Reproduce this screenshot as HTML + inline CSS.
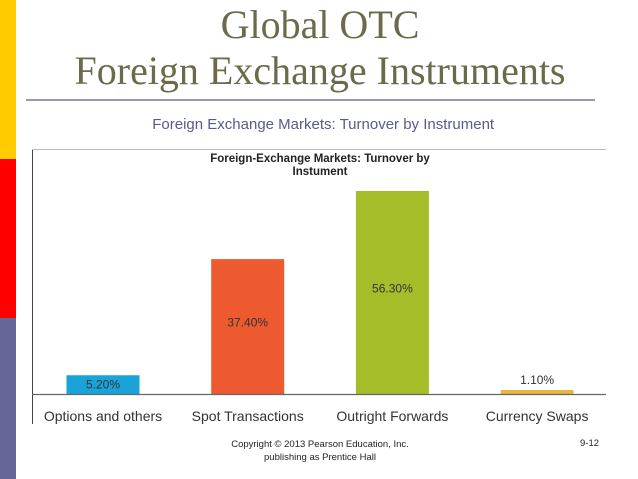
<!DOCTYPE html>
<html><head><meta charset="utf-8"><style>
body{margin:0;width:638px;height:479px;background:#fff;overflow:hidden;position:relative;font-family:"Liberation Sans",sans-serif}
.abs{position:absolute}
</style></head><body>
<div class="abs" style="left:0;top:0;width:16px;height:159px;background:#ffcc00"></div>
<div class="abs" style="left:0;top:159px;width:16px;height:159px;background:#ff0000"></div>
<div class="abs" style="left:0;top:318px;width:16px;height:161px;background:#666699"></div>
<div class="abs" style="left:30px;width:580px;top:2px;text-align:center;font-family:'Liberation Serif',serif;font-size:40px;line-height:46px;color:#6b6b4b">Global OTC<br>Foreign Exchange Instruments</div>
<div class="abs" style="left:26px;top:99px;width:569px;height:2px;background:#9999bb"></div>
<div class="abs" style="left:0;width:638px;top:116px;text-align:center;font-size:15px;color:#5a5a8a">&nbsp;&nbsp;Foreign Exchange Markets: Turnover by Instrument</div>
<svg class="abs" style="left:0;top:0" width="638" height="479">
<line x1="32.5" y1="149" x2="32.5" y2="424" stroke="#444" stroke-width="1"/>
<line x1="32" y1="149.5" x2="606" y2="149.5" stroke="#bbb" stroke-width="1"/>
<text x="320" y="162" text-anchor="middle" font-family="Liberation Sans Narrow, Liberation Sans, sans-serif" font-weight="bold" font-size="11.5" fill="#222">Foreign-Exchange Markets: Turnover by</text>
<text x="320" y="175" text-anchor="middle" font-family="Liberation Sans Narrow, Liberation Sans, sans-serif" font-weight="bold" font-size="11.5" fill="#222">Instument</text>
<g id="bars"></g>
<line x1="32" y1="394.5" x2="606" y2="394.5" stroke="#666" stroke-width="1.2"/>
</svg>
<div class="abs" style="left:170px;width:300px;top:438px;text-align:center;font-size:9.5px;line-height:13px;color:#222">Copyright © 2013 Pearson Education, Inc.<br>publishing as Prentice Hall</div>
<div class="abs" style="left:580px;top:438px;font-size:9.5px;color:#222">9-12</div>
<script>
const categories=["Options and others","Spot Transactions","Outright Forwards","Currency Swaps"];
const values=[5.2,37.4,56.3,1.1];
const valueLabels=["5.20%","37.40%","56.30%","1.10%"];
const colors=["#1aa3d9","#ee5a30","#a6bd2a","#e8b83c"];
const NS="http://www.w3.org/2000/svg";
const g=document.getElementById('bars');
const baseY=394, pxPer=3.606;
function xCenter(i){return 103+i*144.7;}
function yScale(v){return baseY-v*pxPer;}
values.forEach((v,i)=>{
 const r=document.createElementNS(NS,'rect');
 
 
 const w=73,y=yScale(v);
 r.setAttribute('x',xCenter(i)-w/2);r.setAttribute('y',y);
 r.setAttribute('width',w);r.setAttribute('height',baseY-y);
 r.setAttribute('fill',colors[i]);g.appendChild(r);
 const t=document.createElementNS(NS,'text');
 
 
 const h=baseY-y;
 let ty=h<12?y-6:(h<30?y+h/2+4:y+h*0.5-h*0.0+ (i==2?-6:-2));
 if(h>100) ty=y+h*(i==2?0.5:0.5);
 t.setAttribute('x',xCenter(i));t.setAttribute('y',ty);
 t.setAttribute('text-anchor','middle');
 t.setAttribute('font-family','Liberation Sans Narrow, Liberation Sans, sans-serif');
 t.setAttribute('font-size','12');t.setAttribute('fill','#333');
 t.textContent=valueLabels[i];g.appendChild(t);
 const c=document.createElementNS(NS,'text');
 
 
 c.setAttribute('x',xCenter(i));c.setAttribute('y',421);
 c.setAttribute('text-anchor','middle');
 c.setAttribute('font-family','Liberation Sans, sans-serif');
 c.setAttribute('font-size','14');c.setAttribute('fill','#333');
 c.textContent=categories[i];g.appendChild(c);
});
</script>
</body></html>
